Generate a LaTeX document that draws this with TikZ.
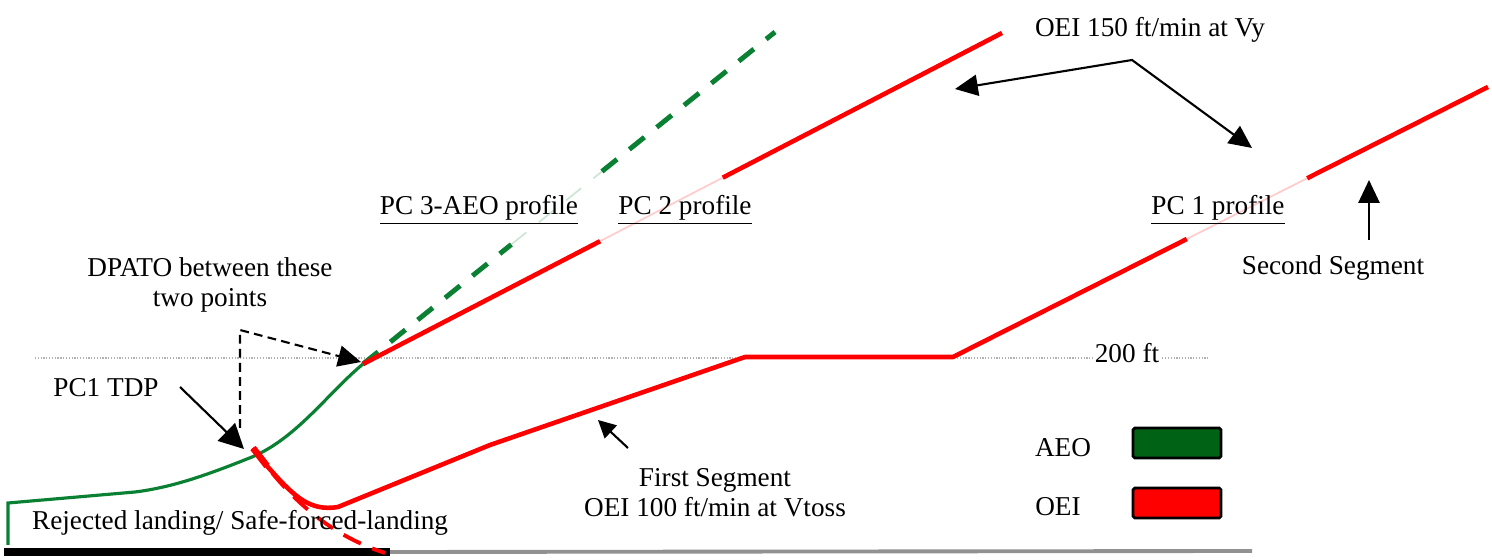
\documentclass[tikz,border=0pt]{standalone}
\usepackage{fontspec}
\setmainfont{Liberation Serif}
\usetikzlibrary{arrows.meta, calc}

\definecolor{aeogreen}{RGB}{10,128,50}
\definecolor{aeobox}{RGB}{0,98,20}
\definecolor{oeired}{RGB}{255,0,0}
\definecolor{groundgray}{RGB}{145,145,145}

\begin{document}
\begin{tikzpicture}[
  x=0.02cm, y=-0.02cm,
  %%── Styles ───────────────────────────────────────────────────────────────
  lbl/.style={font=\fontsize{15.5}{17}\selectfont, inner sep=1pt, align=center},
  aeo/.style={draw=aeogreen, line width=1.8pt},
  aeodash/.style={draw=aeogreen, line width=2.8pt, dash pattern=on 11pt off 9pt},
  oei/.style={draw=oeired, line width=2.6pt, line join=round},
  oeidash/.style={draw=oeired, line width=2.2pt, dash pattern=on 11pt off 7pt},
  faint/.style={opacity=0.2, line width=1pt},
  callout/.style={draw=black, line width=1.2pt, -{Triangle[length=13pt, width=12pt]}},
  legendbox/.style={draw=black, line width=1.6pt, rounded corners=1pt,
    minimum width=1.76cm, minimum height=0.6cm, inner sep=0pt},
]
\useasboundingbox (0,0) rectangle (1492,560);

%%── Ground and 200 ft reference (pixel grid, y down) ────────────────────
\coordinate (rwyA) at (4,552);
\coordinate (rwyB) at (390,552);
\coordinate (gndB) at (1252,551);
\draw[draw=groundgray, line width=2.2pt] (rwyB) -- (gndB);
\draw[line width=4pt] (rwyA) -- (rwyB);

\coordinate (refA) at (35,358);
\coordinate (refB) at (1210,358);
\draw[gray!60, line width=1.6pt, dash pattern=on 0.7pt off 0.9pt] (refA) -- (refB);
\node[lbl, fill=white] (ft200) at (1127,353) {200 ft};

%%── AEO profile ─────────────────────────────────────────────────────────
\coordinate (aeo0)   at (8,545);
\coordinate (aeo1)   at (8,503);
\coordinate (aeo2)   at (135,492);
\coordinate (tdp)    at (252,457);
\coordinate (dpato)  at (363,364);
\coordinate (aeotop) at (775,32);
\draw[aeo] (aeo0) -- (aeo1) -- (aeo2)
  .. controls (175,487) and (212,473) .. (tdp)
  .. controls (297,438) and (328,393) .. (dpato);

%% PC 3 continuation (dashed), faded behind its label
\coordinate (pc3a) at ($(dpato)!0.36!(aeotop)$);
\coordinate (pc3b) at ($(dpato)!0.58!(aeotop)$);
\draw[aeodash] (dpato) -- (pc3a);
\draw[aeodash, faint] (pc3a) -- (pc3b);
\draw[aeodash] (pc3b) -- (aeotop);

%%── PC 2 profile ────────────────────────────────────────────────────────
\coordinate (pc2top) at (1002,33);
\coordinate (pc2a) at ($(dpato)!0.371!(pc2top)$);
\coordinate (pc2b) at ($(dpato)!0.563!(pc2top)$);
\draw[oei] (dpato) -- (pc2a);
\draw[oei, faint] (pc2a) -- (pc2b);
\draw[oei] (pc2b) -- (pc2top);

%%── PC 1 profile ────────────────────────────────────────────────────────
\coordinate (tdpr)   at (253,448);
\coordinate (tdpr2)  at (267,466);
\coordinate (fsknee) at (490,445);
\coordinate (lvlA)   at (745,357);
\coordinate (lvlB)   at (953,357);
\coordinate (pc1top) at (1488,87);
\coordinate (pc1a) at ($(lvlB)!0.437!(pc1top)$);
\coordinate (pc1b) at ($(lvlB)!0.662!(pc1top)$);
\draw[oei, line width=3.8pt] (tdpr) -- (tdpr2);
\draw[oei] (tdpr) -- (tdpr2)
  .. controls (292,494) and (308,512) .. (338,507)
  -- (fsknee) -- (lvlA) -- (lvlB) -- (pc1a);
\draw[oei, faint] (pc1a) -- (pc1b);
\draw[oei] (pc1b) -- (pc1top);

%% rejected / forced landing branch
\coordinate (rejend) at (385,553);
\draw[oeidash] (tdpr) .. controls (290,500) and (330,535) .. (rejend);

%%── Labels ──────────────────────────────────────────────────────────────
\node[lbl] (pc3lbl) at (479,210) {\underline{PC 3-AEO profile}};
\node[lbl] (pc2lbl) at (685,210) {\underline{PC 2 profile}};
\node[lbl] (pc1lbl) at (1218,210) {\underline{PC 1 profile}};
\node[lbl] (dpatolbl) at (210,285) {DPATO between these\\two points};
\node[lbl] (tdplbl) at (106,388) {PC1 TDP};
\node[lbl, anchor=west] (rejlbl) at (30,523) {Rejected landing/ Safe-forced-landing};
\node[lbl] (seg1lbl) at (715,493) {First Segment\\OEI 100 ft/min at Vtoss};
\node[lbl] (seg2lbl) at (1333,268) {Second Segment};
\node[lbl] (vylbl) at (1150,30) {OEI 150 ft/min at Vy};

%%── Call-out arrows ─────────────────────────────────────────────────────
\coordinate (tdptail)  at (180,387);
\coordinate (tdptip)   at (244,449);
\draw[callout, -{Triangle[length=14pt, width=14pt]}] (tdptail) -- (tdptip);

\coordinate (elbowlow) at (240,428);
\coordinate (elbowtop) at (240,330);
\coordinate (dpatotip) at (361,362);
\draw[callout, dash pattern=on 5pt off 3pt] (elbowlow) -- (elbowtop) -- (dpatotip);

\coordinate (vyleft)  at (955,89);
\coordinate (vyknee)  at (1132,60);
\coordinate (vyright) at (1252,148);
\draw[callout, {Triangle[length=13pt, width=12pt]}-{Triangle[length=13pt, width=12pt]}]
  (vyleft) -- (vyknee) -- (vyright);

\coordinate (seg2tail) at (1369,240);
\coordinate (seg2tip)  at (1369,180);
\draw[callout] (seg2tail) -- (seg2tip);

\coordinate (seg1tail) at (628,448);
\coordinate (seg1tip)  at (598,420);
\draw[callout, -{Triangle[length=10pt, width=10pt]}] (seg1tail) -- (seg1tip);

%%── Legend ──────────────────────────────────────────────────────────────
\node[lbl] (aeokey) at (1063,448) {AEO};
\node[legendbox, fill=aeobox] (aeoswatch) at (1177,443) {};
\node[lbl] (oeikey) at (1058,507) {OEI};
\node[legendbox, fill=oeired] (oeiswatch) at (1177,503) {};

\end{tikzpicture}
\end{document}
